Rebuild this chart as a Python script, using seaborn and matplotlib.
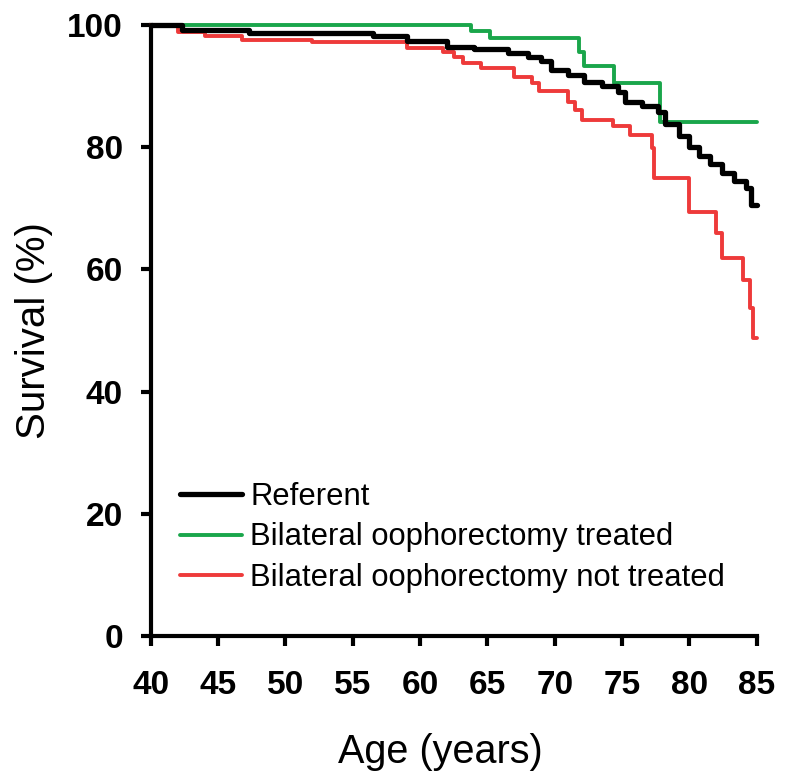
import pandas as pd
import matplotlib
matplotlib.use("Agg")
import matplotlib.pyplot as plt
import seaborn as sns

# -----------------------------
# DATA (step curves)
# -----------------------------
referent_age = [40, 42.3, 47.3, 56.5, 59, 62, 64, 66.5, 68, 69, 69.7, 71, 72.2,
                73.5, 74.7, 75.2, 76.5, 77.7, 78.2, 79.2, 80, 80.7, 81.5, 82.4,
                83.3, 84.2, 84.6, 85]
referent_surv = [100, 99.2, 98.6, 98.1, 97.4, 96.4, 96.0, 95.4, 94.8, 94.0, 92.6,
                 91.8, 90.7, 90.0, 89.0, 87.4, 86.8, 85.8, 83.8, 81.8, 80.0, 78.6,
                 77.2, 75.8, 74.5, 73.3, 70.5, 70.5]

treated_age = [40, 63.8, 65.2, 71.8, 72.2, 74.4, 77.8, 85]
treated_surv = [100, 99.0, 97.9, 95.5, 93.2, 90.5, 84.1, 84.1]

not_treated_age = [40, 42, 44, 46.8, 52, 59, 61.7, 62.5, 63.2, 64.5, 67, 68.3, 68.8,
                   71, 71.5, 72, 74.3, 75.6, 77.2, 77.4, 80, 82, 82.4, 84, 84.5,
                   84.7, 85]
not_treated_surv = [100, 98.8, 98.1, 97.5, 97.2, 96.2, 95.6, 94.8, 93.8, 93.0, 91.5,
                    90.5, 89.1, 87.4, 86.0, 84.5, 83.4, 82.0, 79.9, 75.0, 69.4, 66.0,
                    61.9, 58.3, 53.7, 48.8, 48.8]

labels = ["Referent", "Bilateral oophorectomy treated",
          "Bilateral oophorectomy not treated"]
colors = ["#000000", "#1aa64b", "#ee3a3a"]

x_ticks = [40, 45, 50, 55, 60, 65, 70, 75, 80, 85]
y_ticks = [0, 20, 40, 60, 80, 100]

# -----------------------------
# PLOT
# -----------------------------
sns.set_style("ticks")
plt.rcParams["font.family"] = ["Liberation Sans", "DejaVu Sans"]
plt.rcParams["text.color"] = "black"
plt.rcParams["axes.labelcolor"] = "black"
plt.rcParams["xtick.color"] = "black"
plt.rcParams["ytick.color"] = "black"
plt.rcParams["axes.edgecolor"] = "black"

fig = plt.figure(figsize=(7.85, 7.75), dpi=100)
ax = fig.add_axes([0.192, 0.179, 0.772, 0.789])

series = [
    (treated_age, treated_surv, labels[1], colors[1], 2.8, 2),
    (not_treated_age, not_treated_surv, labels[2], colors[2], 2.8, 3),
    (referent_age, referent_surv, labels[0], colors[0], 3.8, 4),
]
for ages, surv, lab, col, lw, z in series:
    df = pd.DataFrame({"Age": ages, "Survival": surv})
    sns.lineplot(data=df, x="Age", y="Survival", ax=ax, color=col, linewidth=lw,
                 drawstyle="steps-post", estimator=None, label=lab,
                 zorder=z, clip_on=False)

ax.set_xlim(40, 85)
ax.set_ylim(0, 100)
ax.set_xticks(x_ticks)
ax.set_yticks(y_ticks)
sns.despine(ax=ax)
for side in ["left", "bottom"]:
    ax.spines[side].set_linewidth(3)
ax.tick_params(axis="both", width=3, length=7, labelsize=24)
ax.tick_params(axis="x", pad=17)
ax.tick_params(axis="y", pad=13)
for t in ax.get_xticklabels() + ax.get_yticklabels():
    t.set_fontweight("bold")

ax.set_xlabel("Age (years)", fontsize=28.5)
ax.set_ylabel("Survival (%)", fontsize=29)
ax.xaxis.set_label_coords(0.478, -0.158)
ax.yaxis.set_label_coords(-0.161, 0.5)

# legend in the reference order
handles, labs = ax.get_legend_handles_labels()
order = [labs.index(l) for l in labels]
ax.legend([handles[i] for i in order], [labs[i] for i in order],
          loc="upper left", bbox_to_anchor=(0.048, 0.253), frameon=False,
          fontsize=22.3, handlelength=2.0, handletextpad=0.28, labelspacing=0.35,
          borderpad=0, borderaxespad=0)

plt.savefig("out.png", dpi=100)
plt.close()
